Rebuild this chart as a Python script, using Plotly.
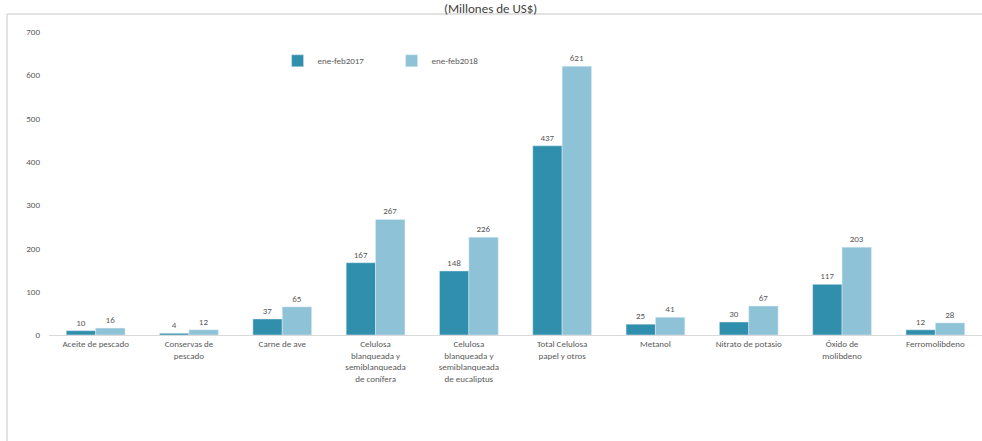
import plotly.graph_objects as go

categories = [
    "Aceite de pescado",
    "Conservas de<br>pescado",
    "Carne de ave",
    "Celulosa<br>blanqueada y<br>semiblanqueada<br>de conífera",
    "Celulosa<br>blanqueada y<br>semiblanqueada<br>de eucaliptus",
    "Total Celulosa<br>papel y otros",
    "Metanol",
    "Nitrato de potasio",
    "Óxido de<br>molibdeno",
    "Ferromolibdeno",
]
values_2017 = [10, 4, 37, 167, 148, 437, 25, 30, 117, 12]
values_2018 = [16, 12, 65, 267, 226, 621, 41, 67, 203, 28]
series_names = ["ene-feb2017", "ene-feb2018"]
y_ticks = [0, 100, 200, 300, 400, 500, 600, 700]
title_text = "(Millones de US$)"

dark = "#2F8FAD"
light = "#8DC2D7"
txt = "#595959"
border = "#D9D9D9"

fig = go.Figure()
fig.add_trace(go.Bar(
    x=categories, y=values_2017, name=series_names[0], marker_color=dark,
    text=values_2017, textposition="outside", cliponaxis=False,
    textfont=dict(size=9, color=txt),
))
fig.add_trace(go.Bar(
    x=categories, y=values_2018, name=series_names[1], marker_color=light,
    text=values_2018, textposition="outside", cliponaxis=False,
    textfont=dict(size=9, color=txt),
))

fig.update_layout(
    width=982, height=441,
    margin=dict(l=49, r=0, t=32, b=106, autoexpand=False),
    plot_bgcolor="white", paper_bgcolor="white",
    font=dict(family="Carlito, Calibri, Lato, sans-serif", color=txt, size=9),
    barmode="group", bargap=0.37, bargroupgap=0,
    legend=dict(orientation="h", x=0.245, y=0.905, xanchor="left", yanchor="middle",
                font=dict(size=9, color=txt), itemwidth=30, entrywidth=69, entrywidthmode="pixels",
                bgcolor="rgba(0,0,0,0)"),
    xaxis=dict(showline=True, linecolor=border, linewidth=1, ticks="", tickfont=dict(size=9, color=txt),
               tickangle=0, automargin=False),
    yaxis=dict(range=[0, 700], tickvals=y_ticks, showgrid=False, zeroline=False, showline=False,
               tickfont=dict(size=9, color=txt), ticklabelstandoff=8, automargin=False),
    shapes=[
        dict(type="line", xref="paper", yref="paper", x0=-0.045, x1=1.0, y0=(335 - 14) / 303, y1=(335 - 14) / 303,
             line=dict(color=border, width=1.5), layer="above"),
        dict(type="line", xref="paper", yref="paper", x0=-0.045, x1=-0.045, y0=-0.4, y1=(335 - 14) / 303,
             line=dict(color=border, width=1.5), layer="above"),
    ],
    annotations=[dict(text=title_text, xref="paper", yref="paper", x=(490 - 49) / 933,
                      y=(335 + 1) / 303, xanchor="center", yanchor="top", showarrow=False,
                      font=dict(size=13, color="#404040"))],
)

fig.write_html("out.html", config={"displayModeBar": False},
               post_script="document.body.style.margin='0';document.body.style.overflow='hidden';")
